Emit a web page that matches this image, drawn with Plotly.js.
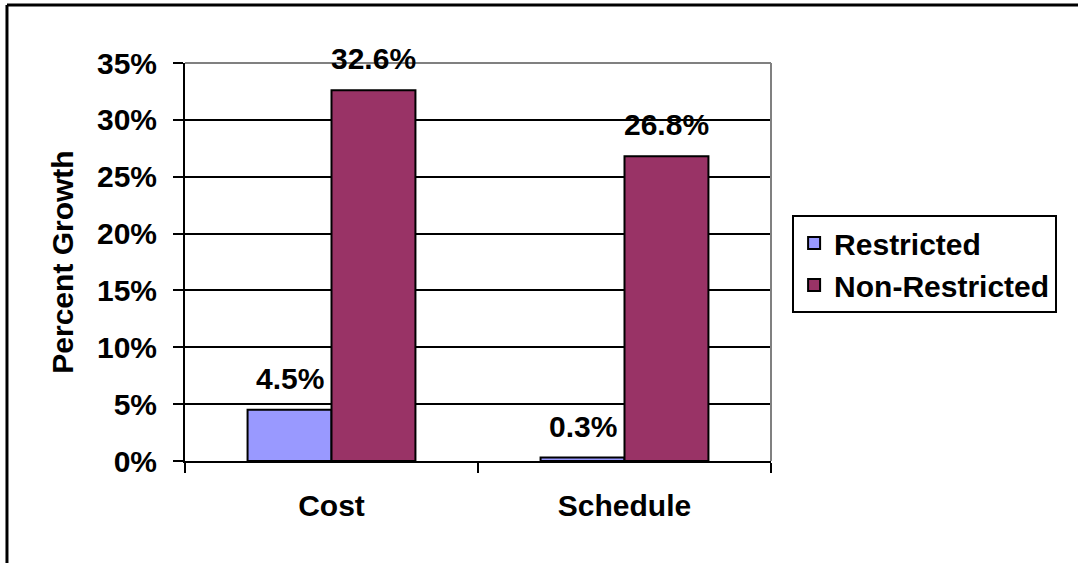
<!DOCTYPE html>
<html>
<head>
<meta charset="utf-8">
<script src="https://cdn.plot.ly/plotly-3.0.1.min.js"></script>
<style>
  html, body { margin: 0; padding: 0; background: #ffffff; }
  #chart { width: 1078px; height: 563px; }
</style>
</head>
<body>
<div id="chart"></div>
<script>
// ---- data ----
const categories = ["Cost", "Schedule"];
const seriesNames = ["Restricted", "Non-Restricted"];
const restricted = [0.045, 0.003];
const nonRestricted = [0.326, 0.268];
const yTickVals = [0, 0.05, 0.10, 0.15, 0.20, 0.25, 0.30, 0.35];
const yTickText = ["0%", "5%", "10%", "15%", "20%", "25%", "30%", "35%"];

// ---- styles ----
const FONT = "Liberation Sans, Arial, Helvetica, sans-serif";
const FS = 30;
const colors = ["#9999FF", "#993366"];
const BARGAP = 0.427;

const seriesValues = [restricted, nonRestricted];

const traces = seriesValues.map((vals, i) => ({
  type: "bar",
  name: "<b>" + seriesNames[i] + "</b>",
  x: categories,
  y: vals,
  marker: { color: colors[i], line: { color: "#000000", width: 2 } },
  hoverinfo: "skip"
}));

// data labels as annotations anchored to bar tops in data coordinates
const half = (1 - BARGAP) / 4;
const annotations = [];
seriesValues.forEach((vals, i) => {
  const off = (i === 0 ? -half : half);
  vals.forEach((v, j) => {
    annotations.push({
      xref: "x", yref: "y",
      x: j + off, y: v,
      text: "<b>" + (v * 100).toFixed(1) + "%</b>",
      showarrow: false,
      xanchor: "center", yanchor: "bottom",
      yshift: 13,
      font: { family: FONT, size: FS, color: "#000000", weight: 700 }
    });
  });
});

const layout = {
  width: 1078,
  height: 563,
  margin: { l: 185, r: 307, t: 63, b: 102, pad: 0 },
  paper_bgcolor: "#ffffff",
  plot_bgcolor: "#ffffff",
  barmode: "group",
  bargap: BARGAP,
  bargroupgap: 0,
  showlegend: true,
  legend: {
    x: 1.036, xanchor: "left",
    y: 0.618, yanchor: "top",
    bgcolor: "#ffffff",
    bordercolor: "#000000",
    borderwidth: 2,
    entrywidth: 225,
    font: { family: FONT, size: FS, color: "#000000", weight: 700 },
    traceorder: "normal"
  },
  xaxis: {
    type: "category",
    showline: true, linecolor: "#000000", linewidth: 2,
    ticks: "outside", tickson: "boundaries", ticklen: 10, tickwidth: 2, tickcolor: "#000000",
    tickfont: { family: FONT, size: FS, color: "#000000", weight: 700 },
    ticklabelstandoff: 17,
    showgrid: false,
    zeroline: false,
    fixedrange: true
  },
  yaxis: {
    range: [0, 0.35],
    tickvals: yTickVals,
    ticktext: yTickText,
    showline: true, linecolor: "#000000", linewidth: 2,
    ticks: "outside", ticklen: 10, tickwidth: 2, tickcolor: "#000000",
    tickfont: { family: FONT, size: FS, color: "#000000", weight: 700 },
    ticklabelstandoff: 10,
    showgrid: true, gridcolor: "#000000", gridwidth: 2,
    zeroline: false,
    title: {
      text: "<b>Percent Growth</b>",
      font: { family: FONT, size: FS, color: "#000000", weight: 700 },
      standoff: 14
    },
    fixedrange: true
  },
  annotations: annotations,
  shapes: [
    // grey plot border (top and right)
    { type: "line", xref: "paper", yref: "paper", x0: 0, x1: 1, y0: 1, y1: 1,
      line: { color: "#808080", width: 2 }, layer: "above" },
    { type: "line", xref: "paper", yref: "paper", x0: 1, x1: 1, y0: 0, y1: 1,
      line: { color: "#808080", width: 2 }, layer: "above" },
    // outer chart frame (left and top edges visible)
    { type: "line", xref: "paper", yref: "paper", x0: -0.3038, x1: -0.3038, y0: 1.1457, y1: -0.3,
      line: { color: "#000000", width: 3 }, layer: "above" },
    { type: "line", xref: "paper", yref: "paper", x0: -0.3038, x1: 1.6, y0: 1.1457, y1: 1.1457,
      line: { color: "#000000", width: 3 }, layer: "above" }
  ]
};

Plotly.newPlot("chart", traces, layout, { displayModeBar: false, staticPlot: true });
</script>
</body>
</html>
